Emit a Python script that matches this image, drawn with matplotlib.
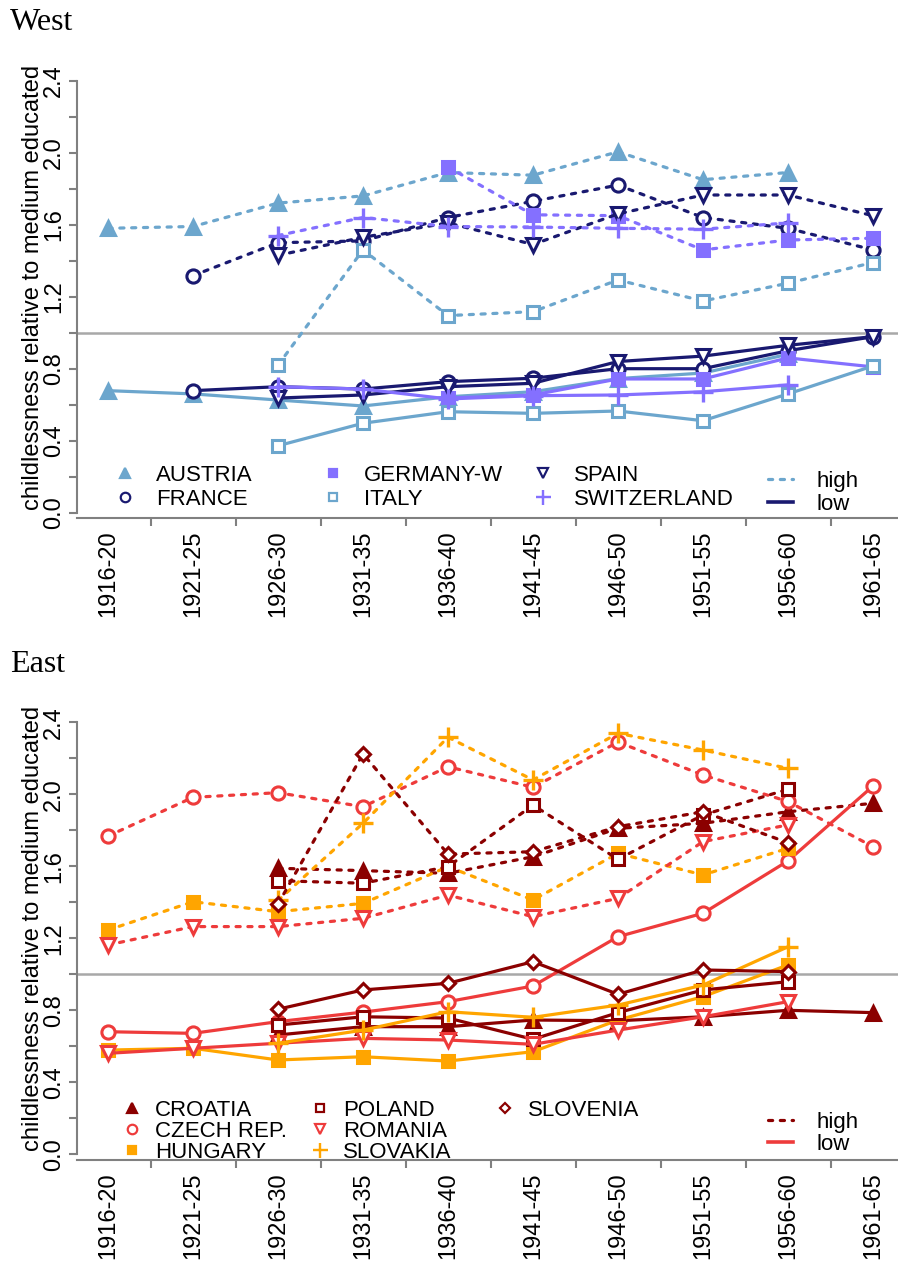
import numpy as np
import matplotlib

matplotlib.use("Agg")
import matplotlib.pyplot as plt
from matplotlib.lines import Line2D
from matplotlib.ticker import FixedLocator, FixedFormatter

plt.rcParams["font.family"] = ["Liberation Sans", "DejaVu Sans"]

nan = np.nan
cohorts = ["1916-20", "1921-25", "1926-30", "1931-35", "1936-40",
           "1941-45", "1946-50", "1951-55", "1956-60", "1961-65"]

# West: ratio for high / low educated
austria_high = [1.58, 1.59, 1.72, 1.76, 1.89, 1.875, 2.005, 1.85, 1.89, nan]
austria_low = [0.678, 0.66, 0.626, 0.593, 0.644, 0.672, 0.745, 0.776, 0.88, nan]
france_high = [nan, 1.317, 1.50, 1.51, 1.64, 1.73, 1.82, 1.64, 1.58, 1.46]
france_low = [nan, 0.678, 0.70, 0.687, 0.728, 0.747, 0.80, 0.80, 0.90, 0.978]
germany_high = [nan, nan, nan, nan, 1.92, 1.655, 1.65, 1.46, 1.515, 1.525]
germany_low = [nan, nan, nan, nan, 0.637, 0.654, 0.743, 0.743, 0.86, 0.81]
italy_high = [nan, nan, 0.82, 1.46, 1.095, 1.117, 1.293, 1.176, 1.275, 1.39]
italy_low = [nan, nan, 0.372, 0.497, 0.561, 0.552, 0.565, 0.511, 0.66, 0.815]
spain_high = [nan, nan, 1.43, 1.53, 1.61, 1.49, 1.66, 1.765, 1.765, 1.65]
spain_low = [nan, nan, 0.637, 0.654, 0.70, 0.719, 0.84, 0.87, 0.93, 0.978]
swiss_high = [nan, nan, 1.54, 1.64, 1.59, 1.587, 1.58, 1.575, 1.61, nan]
swiss_low = [nan, nan, 0.70, 0.687, 0.632, 0.65, 0.654, 0.672, 0.71, nan]

# East
croatia_high = [nan, nan, 1.589, 1.576, 1.561, 1.653, 1.811, 1.839, 1.903, 1.95]
croatia_low = [nan, nan, 0.663, 0.709, 0.709, 0.746, 0.742, 0.764, 0.80, 0.787]
czech_high = [1.768, 1.983, 2.009, 1.931, 2.153, 2.039, 2.29, 2.107, 1.96, 1.709]
czech_low = [0.681, 0.672, 0.737, 0.79, 0.848, 0.935, 1.209, 1.339, 1.63, 2.046]
hungary_high = [1.246, 1.403, 1.348, 1.394, 1.598, 1.413, 1.672, 1.552, 1.70, nan]
hungary_low = [0.579, 0.589, 0.524, 0.542, 0.518, 0.57, 0.746, 0.876, 1.052, nan]
poland_high = [nan, nan, 1.52, 1.506, 1.598, 1.94, 1.639, 1.885, 2.028, nan]
poland_low = [nan, nan, 0.718, 0.764, 0.757, 0.639, 0.787, 0.913, 0.959, nan]
romania_high = [1.163, 1.265, 1.265, 1.311, 1.44, 1.32, 1.422, 1.737, 1.83, nan]
romania_low = [0.561, 0.589, 0.617, 0.644, 0.635, 0.611, 0.69, 0.764, 0.848, nan]
slovakia_high = [nan, nan, 1.41, 1.839, 2.317, 2.08, 2.339, 2.246, 2.144, nan]
slovakia_low = [nan, nan, 0.617, 0.69, 0.792, 0.761, 0.829, 0.94, 1.153, nan]
slovenia_high = [nan, nan, 1.39, 2.224, 1.668, 1.681, 1.82, 1.903, 1.731, nan]
slovenia_low = [nan, nan, 0.806, 0.913, 0.95, 1.07, 0.889, 1.024, 1.015, nan]

SKY = "#6CA6CD"
NAVY = "#191970"
SLATE = "#8470FF"
DARKRED = "#8B0000"
RED = "#EE3B3B"
ORANGE = "#FFA500"
GRAY = "#808080"

# name, colour, marker, filled, high, low
west = [
    ("AUSTRIA", SKY, "^", True, austria_high, austria_low),
    ("FRANCE", NAVY, "o", False, france_high, france_low),
    ("GERMANY-W", SLATE, "s", True, germany_high, germany_low),
    ("ITALY", SKY, "s", False, italy_high, italy_low),
    ("SPAIN", NAVY, "v", False, spain_high, spain_low),
    ("SWITZERLAND", SLATE, "+", False, swiss_high, swiss_low),
]
east = [
    ("CROATIA", DARKRED, "^", True, croatia_high, croatia_low),
    ("CZECH REP.", RED, "o", False, czech_high, czech_low),
    ("HUNGARY", ORANGE, "s", True, hungary_high, hungary_low),
    ("POLAND", DARKRED, "s", False, poland_high, poland_low),
    ("ROMANIA", RED, "v", False, romania_high, romania_low),
    ("SLOVAKIA", ORANGE, "+", False, slovakia_high, slovakia_low),
    ("SLOVENIA", DARKRED, "D", False, slovenia_high, slovenia_low),
]

W, H = 898, 1269
fig = plt.figure(figsize=(W / 100, H / 100), dpi=100)

MSIZE = {"^": 10, "v": 10, "o": 9.5, "s": 8.5, "+": 15, "D": 7.5}


def px_axes(left, top, right, bottom):
    return fig.add_axes([left / W, 1 - bottom / H, (right - left) / W, (bottom - top) / H])


def marker_kw(color, marker, filled, scale=1.0):
    return dict(
        marker=marker,
        markersize=MSIZE[marker] * scale,
        markeredgecolor=color,
        markerfacecolor=color if filled else "white",
        markeredgewidth=2.2 * scale if marker != "+" else 2.4 * scale,
    )


def draw_panel(ax, series):
    x = np.arange(1, len(cohorts) + 1)
    ax.axhline(1.0, color="#a8a8a8", lw=1.8, zorder=1)
    for name, color, marker, filled, high, low in series:
        ax.plot(x, high, color=color, lw=2.3, dashes=(1.3, 2.4),
                dash_capstyle="round", zorder=3, **marker_kw(color, marker, filled))
        ax.plot(x, low, color=color, lw=2.3, zorder=3,
                **marker_kw(color, marker, filled))

    ax.set_xlim(0.64, 10.36)
    ax.set_ylim(-0.03, 2.5)
    for side in ("top", "right"):
        ax.spines[side].set_visible(False)
    ax.spines["left"].set_bounds(0, 2.4)
    ax.spines["left"].set_color(GRAY)
    ax.spines["bottom"].set_color(GRAY)
    ax.spines["left"].set_linewidth(1.5)
    ax.spines["bottom"].set_linewidth(1.5)

    yt = np.round(np.arange(0, 2.41, 0.2), 1)
    ax.yaxis.set_major_locator(FixedLocator(yt))
    ax.yaxis.set_major_formatter(FixedFormatter(
        [f"{v:.1f}" if i % 2 == 0 else "" for i, v in enumerate(yt)]))
    ax.tick_params(axis="y", length=6, width=1.5, color=GRAY, labelsize=17, pad=11)
    for lab in ax.get_yticklabels():
        lab.set_rotation(90)
        lab.set_ha("center")
        lab.set_va("center")

    ax.xaxis.set_major_locator(FixedLocator(x[:-1] + 0.5))
    ax.xaxis.set_major_formatter(FixedFormatter([""] * (len(x) - 1)))
    ax.xaxis.set_minor_locator(FixedLocator(x))
    ax.xaxis.set_minor_formatter(FixedFormatter(cohorts))
    ax.tick_params(axis="x", which="major", length=6, width=1.5, color=GRAY)
    ax.tick_params(axis="x", which="minor", length=0, labelsize=17,
                   labelrotation=90, pad=9)


def draw_key(series, cols_px, rows_px, text_dx, style_px, style_colors):
    ncol_rows = len(rows_px)
    for i, (name, color, marker, filled, _, _) in enumerate(series):
        cx = cols_px[i // ncol_rows]
        cy = rows_px[i % ncol_rows]
        fig.add_artist(Line2D([cx / W], [1 - cy / H], transform=fig.transFigure,
                              linestyle="none", **marker_kw(color, marker, filled, 0.72)))
        fig.text((cx + text_dx) / W, 1 - cy / H, name, fontsize=16,
                 ha="left", va="center_baseline")
    lx, ly_high, ly_low = style_px
    hi_col, lo_col = style_colors
    fig.add_artist(Line2D([(lx - 12) / W, (lx + 13) / W], [1 - ly_high / H] * 2,
                          transform=fig.transFigure, color=hi_col, lw=2.3,
                          dashes=(1.3, 2.4), dash_capstyle="round"))
    fig.add_artist(Line2D([(lx - 12) / W, (lx + 13) / W], [1 - ly_low / H] * 2,
                          transform=fig.transFigure, color=lo_col, lw=2.6))
    fig.text((lx + 37) / W, 1 - ly_high / H, "high", fontsize=16, ha="left", va="center_baseline")
    fig.text((lx + 37) / W, 1 - ly_low / H, "low", fontsize=16, ha="left", va="center_baseline")


ylabel = "childlessness relative to medium educated"

ax_w = px_axes(77.4, 62.7, 903.6, 518.1)
draw_panel(ax_w, west)
fig.text(10 / W, 1 - 22 / H, "West", family="Liberation Serif", fontsize=23,
         ha="left", va="center")
fig.text(33 / W, 1 - 287 / H, ylabel, fontsize=17, rotation=90, ha="center", va="center")
draw_key(west, [125, 333, 543], [473, 497], 31, (780, 479, 502), (SKY, NAVY))

ax_e = px_axes(77.4, 704.3, 903.6, 1159.7)
draw_panel(ax_e, east)
fig.text(10 / W, 1 - 665 / H, "East", family="Liberation Serif", fontsize=23,
         ha="left", va="center")
fig.text(33 / W, 1 - 928 / H, ylabel, fontsize=17, rotation=90, ha="center", va="center")
draw_key(east, [132, 320, 505], [1108, 1129, 1150], 23, (780, 1120, 1142), (DARKRED, RED))

fig.savefig("out.png", dpi=100)
